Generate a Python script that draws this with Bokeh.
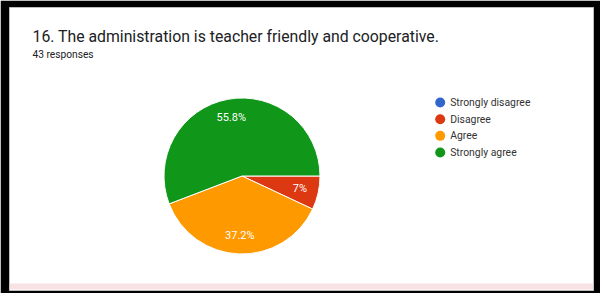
import numpy as np
from bokeh.plotting import figure
from bokeh.models import Range1d, ColumnDataSource
from bokeh.core.properties import value
from bokeh.embed import file_html
from bokeh.resources import INLINE

title_text = "16. The administration is teacher friendly and cooperative."
subtitle_text = "43 responses"
categories = ["Strongly disagree", "Disagree", "Agree", "Strongly agree"]
counts = [0, 3, 16, 24]
colors = ["#3366cc", "#dc3912", "#ff9900", "#109618"]

FONT = "Roboto"
W, H = 600, 293
ML, MR, MT, MB = 9, 7, 7, 3
FW, FH = W - ML - MR, H - MT - MB

p = figure(width=W, height=H, output_backend="svg", toolbar_location=None,
           x_range=Range1d(0, FW), y_range=Range1d(0, FH),
           min_border_left=ML, min_border_right=MR, min_border_top=MT, min_border_bottom=MB)
p.axis.visible = False
p.grid.visible = False
p.border_fill_color = "black"
p.background_fill_color = "white"
p.outline_line_color = "#bdbdbd"

# pink strip at bottom of the card
p.quad(left=[0], right=[FW], bottom=[1], top=[7], fill_color="#f8e3e4", line_color=None)

# pie
cx, cy, R = 232.5, 114.5, 78
vals = np.array(counts, dtype=float)
frac = vals / vals.sum()
cum = np.concatenate([[0.0], np.cumsum(frac)])
start = -cum[:-1] * 2 * np.pi
end = -cum[1:] * 2 * np.pi
src = ColumnDataSource(dict(start=start, end=end, color=colors))
p.wedge(x=cx, y=cy, radius=R, start_angle="end", end_angle="start", direction="anticlock",
        fill_color="color", line_color="white", line_width=1, source=src)

# slice labels
lx, ly, lt = [], [], []
for f, s, e in zip(frac, start, end):
    if f <= 0:
        continue
    mid = (s + e) / 2
    lx.append(cx + 0.76 * R * np.cos(mid))
    ly.append(cy + 0.76 * R * np.sin(mid))
    pct = round(f * 100, 1)
    lt.append(("%g" % pct) + "%")
p.text(x=lx, y=ly, text=lt, text_color="white", text_font=value(FONT),
       text_font_size="11px", text_align="center", text_baseline="middle")

# legend
idx = np.arange(len(categories))
leg_y = 188 - idx * 16.67
p.scatter(x=[430.7] * len(categories), y=leg_y, size=10, marker="circle",
          fill_color=colors, line_color=None)
p.text(x=[440.7] * len(categories), y=leg_y, text=categories, text_color="#333333",
       text_font=value(FONT), text_font_size="10.4px", text_baseline="middle")

# title and subtitle
p.text(x=[23], y=[FH - (44.0 - 15)], text=[title_text], text_color="#202124",
       text_font=value(FONT), text_font_size="15.8px", text_baseline="middle")
p.text(x=[23], y=[FH - (61.5 - 15)], text=[subtitle_text], text_color="#202124",
       text_font=value(FONT), text_font_size="10.2px", text_baseline="middle")

open("out.html", "w").write(file_html(p, INLINE))
